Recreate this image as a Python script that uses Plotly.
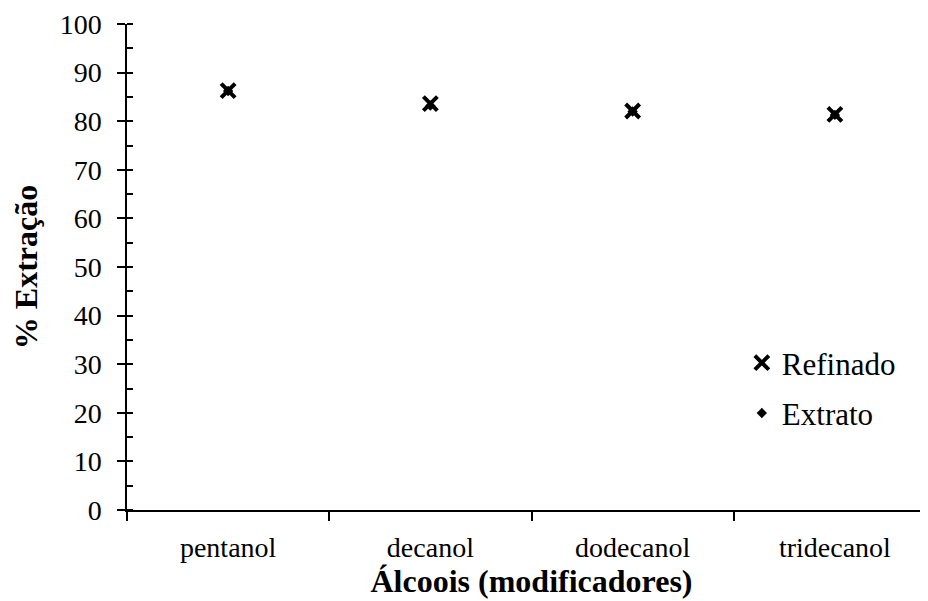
import plotly.graph_objects as go

categories = ["pentanol", "decanol", "dodecanol", "tridecanol"]
refinado = [86.3, 83.6, 82.1, 81.4]
extrato = [86.2, 83.2, 82.0, 81.3]
y_ticks = list(range(0, 101, 10))

FONT = "Liberation Serif, Times New Roman, serif"

fig = go.Figure()
fig.add_trace(go.Scatter(
    x=categories, y=refinado, mode="markers", name="Refinado",
    legendgroup="a",
    marker=dict(symbol="x-thin-open", size=14, color="black",
                line=dict(width=4, color="black")),
))
fig.add_trace(go.Scatter(
    x=categories, y=extrato, mode="markers", name="Extrato",
    legendgroup="b",
    marker=dict(symbol="diamond", size=8, color="black"),
))

cat_axis_common = dict(type="category", categoryarray=categories,
                       range=[-0.5, 3.5], showgrid=False, zeroline=False,
                       automargin=False)

fig.update_layout(
    width=928, height=601,
    margin=dict(l=119, r=0, t=16, b=99),
    paper_bgcolor="white", plot_bgcolor="white",
    font=dict(family=FONT, size=28, color="black"),
    showlegend=True,
    legend=dict(x=0.76, y=0.358, xanchor="left", yanchor="top",
                font=dict(size=31), traceorder="grouped",
                tracegroupgap=7, bgcolor="rgba(0,0,0,0)",
                itemwidth=30),
    xaxis=dict(**cat_axis_common, showline=True, linecolor="black",
               linewidth=1.5, tickson="boundaries", ticks="outside",
               ticklen=9, tickwidth=1.5, tickcolor="black",
               ticklabelstandoff=12,
               title=dict(text="<b>Álcoois (modificadores)</b>",
                          font=dict(size=32), standoff=3)),
    xaxis2=dict(**cat_axis_common, overlaying="x", anchor="y",
                showline=False, ticks="inside", ticklen=6, tickwidth=1.5,
                tickcolor="black", showticklabels=False),
    xaxis3=dict(**cat_axis_common, overlaying="x", anchor="y",
                showline=False, tickson="boundaries", ticks="inside",
                ticklen=9, tickwidth=1.5, tickcolor="black",
                showticklabels=False),
    yaxis=dict(range=[0, 100], tickvals=y_ticks, showgrid=False,
               zeroline=False, showline=True, linecolor="black",
               linewidth=1.5, ticks="outside", ticklen=8, tickwidth=1.5,
               tickcolor="black", ticklabelstandoff=10, automargin=False,
               minor=dict(dtick=5, ticks="inside", ticklen=6,
                          tickwidth=1.5, tickcolor="black"),
               title=dict(text="<b>% Extração</b>", font=dict(size=32),
                          standoff=24)),
    yaxis2=dict(range=[0, 100], tickvals=y_ticks, overlaying="y",
                anchor="x", showgrid=False, zeroline=False, automargin=False,
                showline=False, ticks="inside", ticklen=9, tickwidth=1.5,
                tickcolor="black", showticklabels=False),
)

fig.write_html("out.html")
